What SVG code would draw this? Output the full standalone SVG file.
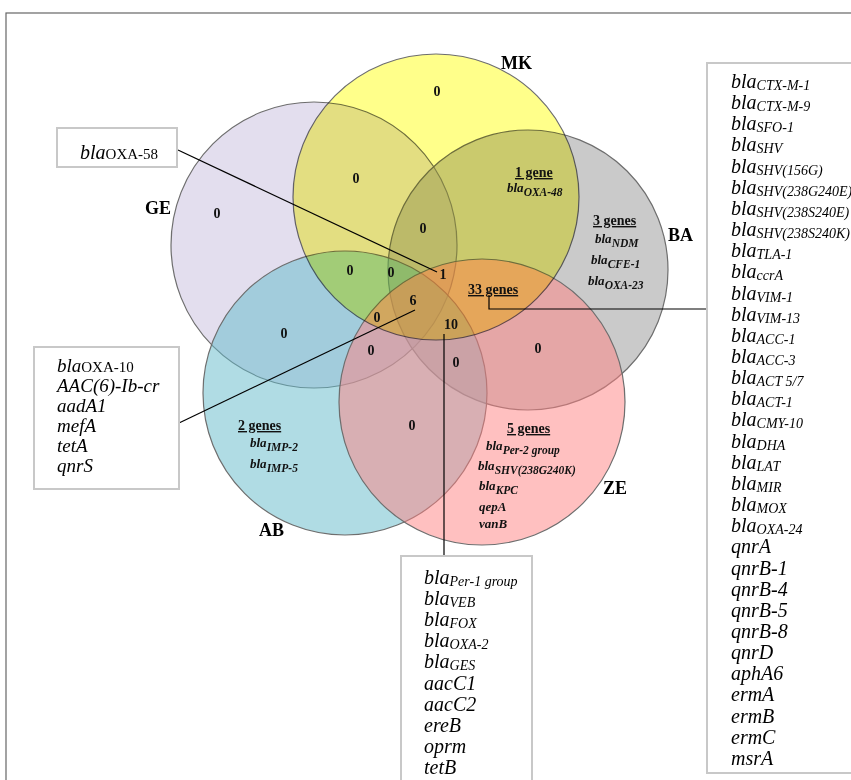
<svg xmlns="http://www.w3.org/2000/svg" width="851" height="780" viewBox="0 0 851 780">
<style>
.c{stroke:#6e6e6e;stroke-width:1.2}
.n{font-family:"Liberation Serif",serif;font-weight:bold;font-size:14px;fill:#111}
.lab{font-family:"Liberation Serif",serif;font-weight:bold;font-size:18px;fill:#000}
.g{font-family:"Liberation Serif",serif;font-weight:bold;font-size:14px;fill:#111;text-decoration:underline}
.vb{font-family:"Liberation Serif",serif;font-weight:bold;font-style:italic;font-size:13px;fill:#111}
.vs{font-size:11.5px}
.bx{fill:#fff;stroke:#c8c8c8;stroke-width:2}
.t{font-family:"Liberation Serif",serif;font-style:italic;font-size:20px;fill:#000}
.tl{font-size:19px}
.s{font-size:14px}
.r{font-style:normal;font-size:15px}
.ln{stroke:#000;stroke-width:1.2;fill:none}
.mk{mix-blend-mode:multiply}
</style>
<rect width="851" height="780" fill="#fff"/>
<rect x="6" y="13" width="900" height="800" fill="none" stroke="#666" stroke-width="1.2"/>

<g id="venn">
<g id="GE"><circle class="c" cx="314" cy="245" r="143" fill="rgb(200,190,222)" fill-opacity="0.5"/></g>
<g id="BA"><circle class="c" cx="528" cy="270" r="140" fill="#969696" fill-opacity="0.5"/></g>
<g id="AB"><circle class="c" cx="345" cy="393" r="142" fill="rgb(97,185,201)" fill-opacity="0.5"/></g>
<g id="ZE"><circle class="c" cx="482" cy="402" r="143" fill="rgb(255,130,130)" fill-opacity="0.5"/></g>
<g id="MK"><circle class="c mk" cx="436" cy="197" r="143" fill="rgb(255,255,60)" fill-opacity="0.6"/></g>
</g>

<g id="set-labels">
<text class="lab" x="501" y="69">MK</text>
<text class="lab" x="145" y="214">GE</text>
<text class="lab" x="668" y="241">BA</text>
<text class="lab" x="259" y="536">AB</text>
<text class="lab" x="603" y="494">ZE</text>
</g>

<g id="counts">
<text class="n" x="437" y="96" text-anchor="middle">0</text>
<text class="n" x="356" y="183" text-anchor="middle">0</text>
<text class="n" x="217" y="218" text-anchor="middle">0</text>
<text class="n" x="423" y="233" text-anchor="middle">0</text>
<text class="n" x="350" y="275" text-anchor="middle">0</text>
<text class="n" x="391" y="277" text-anchor="middle">0</text>
<text class="n" x="443" y="279" text-anchor="middle">1</text>
<text class="n" x="413" y="305" text-anchor="middle">6</text>
<text class="n" x="377" y="322" text-anchor="middle">0</text>
<text class="n" x="451" y="329" text-anchor="middle">10</text>
<text class="n" x="284" y="338" text-anchor="middle">0</text>
<text class="n" x="371" y="355" text-anchor="middle">0</text>
<text class="n" x="456" y="367" text-anchor="middle">0</text>
<text class="n" x="538" y="353" text-anchor="middle">0</text>
<text class="n" x="412" y="430" text-anchor="middle">0</text>
</g>

<g id="region-MK-BA">
<text class="g" x="515" y="177">1 gene</text>
<text class="vb" x="507" y="192">bla<tspan class="vs" dy="4">OXA-48</tspan></text>
</g>
<g id="region-BA">
<text class="g" x="593" y="225">3 genes</text>
<text class="vb" x="595" y="243">bla<tspan class="vs" dy="4">NDM</tspan></text>
<text class="vb" x="591" y="264">bla<tspan class="vs" dy="4">CFE-1</tspan></text>
<text class="vb" x="588" y="285">bla<tspan class="vs" dy="4">OXA-23</tspan></text>
</g>
<g id="region-center">
<text class="g" x="468" y="294">33 genes</text>
</g>
<g id="region-AB">
<text class="g" x="238" y="430">2 genes</text>
<text class="vb" x="250" y="447">bla<tspan class="vs" dy="4">IMP-2</tspan></text>
<text class="vb" x="250" y="468">bla<tspan class="vs" dy="4">IMP-5</tspan></text>
</g>
<g id="region-ZE">
<text class="g" x="507" y="433">5 genes</text>
<text class="vb" x="486" y="450">bla<tspan class="vs" dy="4">Per-2 group</tspan></text>
<text class="vb" x="478" y="470">bla<tspan class="vs" dy="4">SHV(238G240K)</tspan></text>
<text class="vb" x="479" y="490">bla<tspan class="vs" dy="4">KPC</tspan></text>
<text class="vb" x="479" y="511">qepA</text>
<text class="vb" x="479" y="528">vanB</text>
</g>

<g id="connectors">
<line class="ln" x1="178" y1="150" x2="437" y2="272"/>
<line class="ln" x1="179" y1="423" x2="415" y2="310"/>
<line class="ln" x1="444" y1="334" x2="444" y2="556" stroke="#444" stroke-width="1.5"/>
<polyline class="ln" points="489,295 489,309 707,309"/>
</g>

<g id="box-oxa58">
<rect class="bx" x="57" y="128" width="120" height="39"/>
<text class="t" x="80" y="159">bla<tspan class="r">OXA-58</tspan></text>
</g>

<g id="box-left">
<rect class="bx" x="34" y="347" width="145" height="142"/>
<text class="t tl" x="57" y="372">bla<tspan class="r">OXA-10</tspan></text>
<text class="t tl" x="57" y="392">AAC(6)-Ib-cr</text>
<text class="t tl" x="57" y="412">aadA1</text>
<text class="t tl" x="57" y="432">mefA</text>
<text class="t tl" x="57" y="452">tetA</text>
<text class="t tl" x="57" y="472">qnrS</text>
</g>

<g id="box-bottom">
<rect class="bx" x="401" y="556" width="131" height="240"/>
<text class="t" x="424" y="584">bla<tspan class="s" dy="2">Per-1 group</tspan></text>
<text class="t" x="424" y="605">bla<tspan class="s" dy="2">VEB</tspan></text>
<text class="t" x="424" y="626">bla<tspan class="s" dy="2">FOX</tspan></text>
<text class="t" x="424" y="647">bla<tspan class="s" dy="2">OXA-2</tspan></text>
<text class="t" x="424" y="668">bla<tspan class="s" dy="2">GES</tspan></text>
<text class="t" x="424" y="690">aacC1</text>
<text class="t" x="424" y="711">aacC2</text>
<text class="t" x="424" y="732">ereB</text>
<text class="t" x="424" y="753">oprm</text>
<text class="t" x="424" y="774">tetB</text>
</g>

<g id="box-right">
<rect class="bx" x="707" y="63" width="200" height="710"/>
<text class="t" x="731" y="88">bla<tspan class="s" dy="2">CTX-M-1</tspan></text>
<text class="t" x="731" y="109">bla<tspan class="s" dy="2">CTX-M-9</tspan></text>
<text class="t" x="731" y="130">bla<tspan class="s" dy="2">SFO-1</tspan></text>
<text class="t" x="731" y="151">bla<tspan class="s" dy="2">SHV</tspan></text>
<text class="t" x="731" y="173">bla<tspan class="s" dy="2">SHV(156G)</tspan></text>
<text class="t" x="731" y="194">bla<tspan class="s" dy="2">SHV(238G240E)</tspan></text>
<text class="t" x="731" y="215">bla<tspan class="s" dy="2">SHV(238S240E)</tspan></text>
<text class="t" x="731" y="236">bla<tspan class="s" dy="2">SHV(238S240K)</tspan></text>
<text class="t" x="731" y="257">bla<tspan class="s" dy="2">TLA-1</tspan></text>
<text class="t" x="731" y="278">bla<tspan class="s" dy="2">ccrA</tspan></text>
<text class="t" x="731" y="300">bla<tspan class="s" dy="2">VIM-1</tspan></text>
<text class="t" x="731" y="321">bla<tspan class="s" dy="2">VIM-13</tspan></text>
<text class="t" x="731" y="342">bla<tspan class="s" dy="2">ACC-1</tspan></text>
<text class="t" x="731" y="363">bla<tspan class="s" dy="2">ACC-3</tspan></text>
<text class="t" x="731" y="384">bla<tspan class="s" dy="2">ACT 5/7</tspan></text>
<text class="t" x="731" y="405">bla<tspan class="s" dy="2">ACT-1</tspan></text>
<text class="t" x="731" y="426">bla<tspan class="s" dy="2">CMY-10</tspan></text>
<text class="t" x="731" y="448">bla<tspan class="s" dy="2">DHA</tspan></text>
<text class="t" x="731" y="469">bla<tspan class="s" dy="2">LAT</tspan></text>
<text class="t" x="731" y="490">bla<tspan class="s" dy="2">MIR</tspan></text>
<text class="t" x="731" y="511">bla<tspan class="s" dy="2">MOX</tspan></text>
<text class="t" x="731" y="532">bla<tspan class="s" dy="2">OXA-24</tspan></text>
<text class="t" x="731" y="553">qnrA</text>
<text class="t" x="731" y="575">qnrB-1</text>
<text class="t" x="731" y="596">qnrB-4</text>
<text class="t" x="731" y="617">qnrB-5</text>
<text class="t" x="731" y="638">qnrB-8</text>
<text class="t" x="731" y="659">qnrD</text>
<text class="t" x="731" y="680">aphA6</text>
<text class="t" x="731" y="701">ermA</text>
<text class="t" x="731" y="723">ermB</text>
<text class="t" x="731" y="744">ermC</text>
<text class="t" x="731" y="765">msrA</text>
</g>
</svg>
